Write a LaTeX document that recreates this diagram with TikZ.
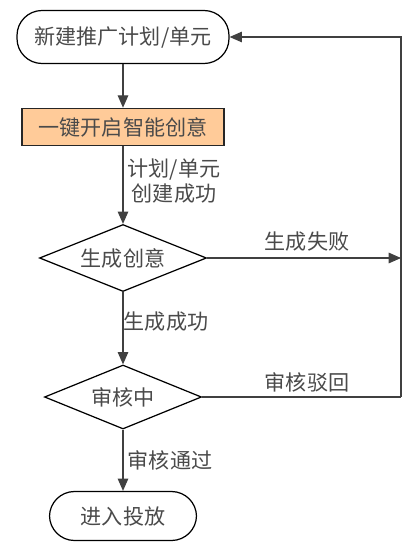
\documentclass[tikz,border=0pt]{standalone}
\usepackage{fontspec}
\setmainfont{Noto Sans CJK SC}
\usetikzlibrary{shapes.geometric, arrows.meta, positioning}

\definecolor{linegray}{HTML}{404040}
\definecolor{textgray}{HTML}{4A4A4A}
\definecolor{startorange}{HTML}{FFCB99}

\begin{document}
\begin{tikzpicture}[
    % Styles
    every node/.style={font=\fontsize{12}{14.2}\selectfont, text=textgray},
    term node/.style={rectangle, draw=black, line width=0.7pt, rounded corners=0.5cm, align=center, inner sep=0pt},
    act node/.style={rectangle, draw=black!85, fill=startorange, line width=0.9pt, align=center, inner sep=0pt, minimum width=4.04cm, minimum height=0.74cm},
    dec node/.style={diamond, draw=black, line width=0.7pt, align=center, inner sep=1pt, aspect=2.5},
    edge label/.style={align=center, inner sep=1pt},
    arrow/.style={-{Triangle[length=7pt, width=6pt]}, draw=linegray, line width=0.6pt},
    line/.style={draw=linegray, line width=0.6pt}
]
\useasboundingbox (0,0) rectangle (8.3,-11.14);

% Main column
\node[term node, minimum width=4.24cm, minimum height=1.06cm] (create) at (2.46,-0.74) {新建推广计划/单元};
\node[act node] (smart) at (2.46,-2.54) {一键开启智能创意};
\node[dec node, minimum width=3.34cm, minimum height=1.34cm] (gen) at (2.46,-5.16) {生成创意};
\node[dec node, minimum width=3.14cm, minimum height=1.28cm] (audit) at (2.46,-7.94) {审核中};
\node[term node, minimum width=2.94cm, minimum height=0.98cm] (launch) at (2.46,-10.32) {进入投放};

% Return path
\coordinate (back top) at (8.02,-0.74);
\coordinate (back fail) at (8.02,-5.16);
\coordinate (back reject) at (8.02,-7.94);

% Connections
\draw[arrow] (create.south) -- (smart.north);
\draw[arrow] (smart.south) -- (gen.north);
\draw[arrow] (gen.south) -- (audit.north);
\draw[arrow] (audit.south) -- (launch.north);
\draw[arrow] (gen.east) -- (back fail);
\draw[line] (audit.east) -- (back reject);
\draw[arrow] (back reject) -- (back top) -- (create.east);

% Labels
\node[edge label] (l created) at (3.48,-3.62) {计划/单元\\创建成功};
\node[edge label] (l fail) at (6.14,-4.84) {生成失败};
\node[edge label] (l ok) at (3.32,-6.44) {生成成功};
\node[edge label] (l reject) at (6.14,-7.64) {审核驳回};
\node[edge label] (l pass) at (3.40,-9.20) {审核通过};

\end{tikzpicture}
\end{document}
